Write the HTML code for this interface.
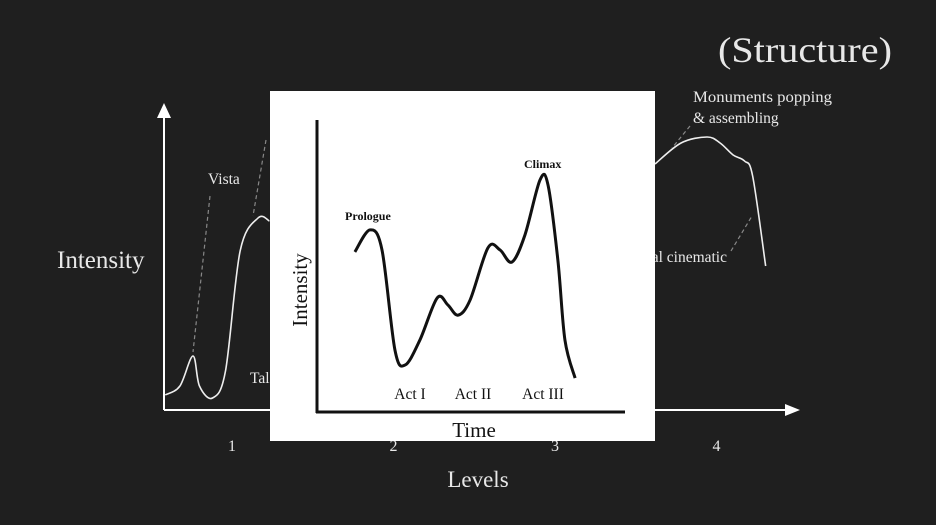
<!DOCTYPE html>
<html><head><meta charset="utf-8"><style>
html,body{margin:0;padding:0;background:#1f1f1f;}
svg{display:block;}
.o{font-family:"Liberation Serif",serif;fill:#e8e8e8;}
.i{font-family:"Liberation Serif",serif;fill:#111;}
</style></head><body>
<svg id="c" width="936" height="525">
<rect width="936" height="525" fill="#1f1f1f"/>
<text class="o" x="892" y="62" font-size="36" text-anchor="end" textLength="174" lengthAdjust="spacingAndGlyphs">(Structure)</text>
<line x1="164" y1="410" x2="164" y2="115" stroke="#fff" stroke-width="2"/>
<polygon points="157,118 164,103 171,118" fill="#fff"/>
<line x1="164" y1="410" x2="788" y2="410" stroke="#fff" stroke-width="2"/>
<polygon points="785,404 800,410 785,416" fill="#fff"/>
<text class="o" x="57" y="268" font-size="25">Intensity</text>
<text class="o" x="478" y="487" font-size="23" text-anchor="middle">Levels</text>
<g id="ticks"></g>
<g stroke="#888" stroke-width="1.2" stroke-dasharray="4,3" fill="none">
<line x1="210" y1="196" x2="193" y2="352"/>
<line x1="266" y1="140" x2="253" y2="216"/>
<line x1="690" y1="126" x2="672" y2="148"/>
<line x1="731" y1="251" x2="752" y2="216"/>
</g>
<text class="o" x="208" y="184" font-size="15.5">Vista</text>
<text class="o" x="250" y="383" font-size="15.5">Talk</text>
<text class="o" x="693" y="102" font-size="15.5" textLength="139" lengthAdjust="spacingAndGlyphs">Monuments popping</text>
<text class="o" x="693" y="123" font-size="15.5">&amp; assembling</text>
<text class="o" x="727" y="262" font-size="15.5" text-anchor="end">Final cinematic</text>
<path id="outer" fill="none" stroke="#eee" stroke-width="1.6"/>
<rect x="270" y="91" width="385" height="350" fill="#fff"/>
<line x1="317" y1="120" x2="317" y2="413" stroke="#111" stroke-width="3"/>
<line x1="316" y1="412" x2="625" y2="412" stroke="#111" stroke-width="3"/>
<text class="i" transform="translate(307,290) rotate(-90)" font-size="21" text-anchor="middle">Intensity</text>
<text class="i" x="474" y="437" font-size="21" text-anchor="middle">Time</text>
<text class="i" x="345" y="220" font-size="12" font-weight="bold">Prologue</text>
<text class="i" x="524" y="168" font-size="12" font-weight="bold">Climax</text>
<text class="i" x="410" y="399" font-size="15.5" text-anchor="middle">Act I</text>
<text class="i" x="473" y="399" font-size="15.5" text-anchor="middle">Act II</text>
<text class="i" x="543" y="399" font-size="15.5" text-anchor="middle">Act III</text>
<path id="inner" fill="none" stroke="#111" stroke-width="3"/>
</svg>
<script>
const levelTicks=[1,2,3,4];
const outerLevels=[0.59,0.68,0.76,0.8,0.88,0.96,1.05,1.16,1.23,3.6,3.76,3.92,4.0,4.08,4.15,4.2,4.28];
const outerIntensity=[5,8,18,8,4,13,53,64,63,82,89,91,89,85,83,78,48];
const innerTime=[1.23,1.72,2.11,2.53,2.86,3.34,3.9,4.25,4.58,4.97,5.55,5.94,6.33,6.75,7.24,7.5,7.82,8.05,8.38];
const innerIntensity=[55.2,62.8,55.9,21.4,16.2,24.8,39.3,36.9,33.4,38.6,56.6,55.9,51.7,61,80,78.3,52.4,24.8,11.7];
const ox=l=>232+(l-1)*162.7, oy=v=>410-v*3;
const tx=l=>232+(l-1)*161.5;
const ix=t=>317+t*30.8, iy=v=>412-v*2.9;
function smooth(p){let d=`M${p[0][0]},${p[0][1]}`;for(let i=0;i<p.length-1;i++){const a=p[i-1]||p[i],b=p[i],c=p[i+1],e=p[i+2]||c;
d+=` C${b[0]+(c[0]-a[0])/6},${b[1]+(c[1]-a[1])/6} ${c[0]-(e[0]-b[0])/6},${c[1]-(e[1]-b[1])/6} ${c[0]},${c[1]}`;}return d;}
const op=outerLevels.map((l,i)=>[ox(l),oy(outerIntensity[i])]);
document.getElementById('outer').setAttribute('d',smooth(op.slice(0,9))+' '+smooth(op.slice(9)));
document.getElementById('inner').setAttribute('d',smooth(innerTime.map((t,i)=>[ix(t),iy(innerIntensity[i])])));
const g=document.getElementById('ticks');
levelTicks.forEach(l=>{const t=document.createElementNS('http://www.w3.org/2000/svg','text');
t.setAttribute('x',tx(l));t.setAttribute('y',451);t.setAttribute('font-size',16);t.setAttribute('text-anchor','middle');t.setAttribute('class','o');


t.textContent=l;g.appendChild(t);});
</script>
</body></html>
